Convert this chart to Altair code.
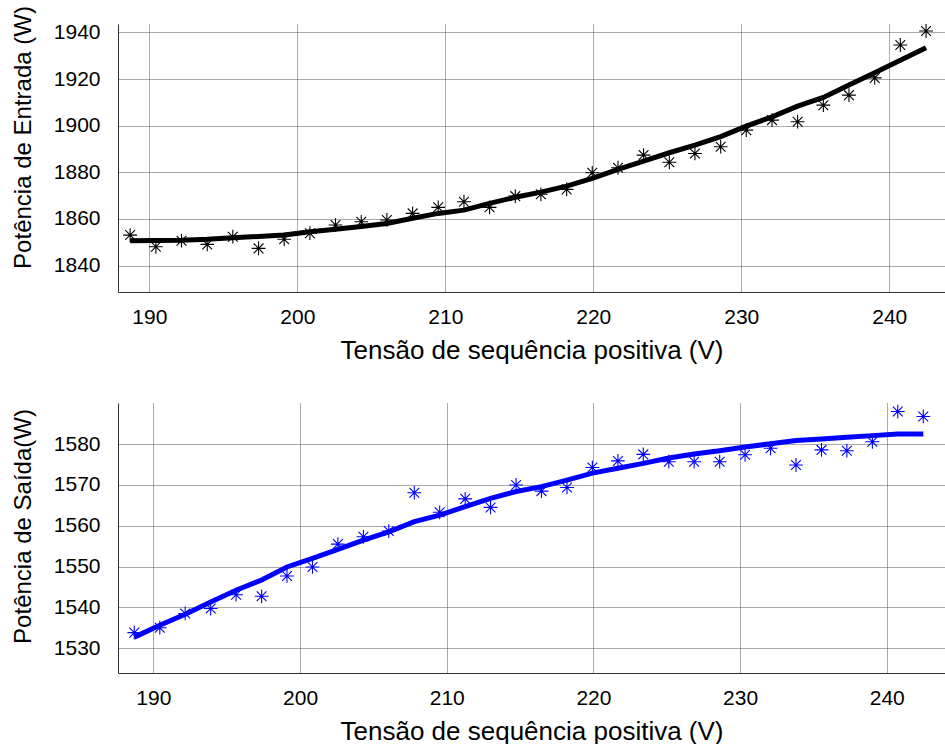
import altair as alt
import pandas as pd

# Positive-sequence voltage (V)
voltage = [188.70, 190.44, 192.17, 193.91, 195.64, 197.38, 199.11, 200.85,
           202.58, 204.32, 206.05, 207.79, 209.52, 211.26, 212.99, 214.73,
           216.46, 218.20, 219.93, 221.67, 223.40, 225.14, 226.87, 228.61,
           230.34, 232.08, 233.81, 235.55, 237.28, 239.02, 240.75, 242.49]

# Input power (W): measured points and fitted curve
p_in_meas = [1853.1, 1848.1, 1850.7, 1849.1, 1852.4, 1847.4, 1851.3, 1853.9,
             1857.4, 1858.8, 1859.6, 1862.4, 1865.0, 1867.4, 1865.0, 1869.8,
             1870.6, 1872.7, 1879.8, 1882.0, 1887.4, 1884.3, 1888.1, 1891.0,
             1898.1, 1902.4, 1901.7, 1908.8, 1913.1, 1920.5, 1934.6, 1940.6]
p_in_fit = [1850.7, 1850.8, 1850.9, 1851.3, 1852.0, 1852.5, 1853.1, 1854.5,
            1855.6, 1856.8, 1858.1, 1860.3, 1862.4, 1863.8, 1866.7, 1869.3,
            1871.5, 1874.1, 1877.4, 1881.3, 1884.8, 1888.4, 1891.7, 1895.3,
            1899.8, 1903.8, 1908.4, 1912.1, 1917.4, 1922.7, 1928.1, 1933.4]

# Output power (W): measured points and fitted curve
p_out_meas = [1533.8, 1535.0, 1538.5, 1539.7, 1543.1, 1542.7, 1547.7, 1549.9,
              1555.5, 1557.3, 1558.7, 1568.1, 1563.3, 1566.6, 1564.5, 1570.0,
              1568.5, 1569.4, 1574.3, 1575.9, 1577.5, 1575.7, 1575.7, 1575.7,
              1577.4, 1579.0, 1574.9, 1578.6, 1578.4, 1580.6, 1588.0, 1586.8]
p_out_fit = [1532.7, 1535.6, 1538.3, 1541.3, 1544.2, 1546.7, 1549.9, 1552.0,
             1554.2, 1556.5, 1558.5, 1561.0, 1562.6, 1564.7, 1566.7, 1568.4,
             1569.6, 1571.2, 1572.9, 1574.1, 1575.3, 1576.6, 1577.6, 1578.4,
             1579.3, 1580.1, 1580.9, 1581.3, 1581.7, 1582.1, 1582.5, 1582.5]

x_ticks = [190, 200, 210, 220, 230, 240]
top_y_ticks = [1840, 1860, 1880, 1900, 1920, 1940]
bot_y_ticks = [1530, 1540, 1550, 1560, 1570, 1580]

x_title = "Tensão de sequência positiva (V)"
top_y_title = "Potência de Entrada (W)"
bot_y_title = "Potência de Saída(W)"

ASTERISK = "M-1,0L1,0M0,-1L0,1M-0.71,-0.71L0.71,0.71M-0.71,0.71L0.71,-0.71"

df_top = pd.DataFrame({"v": voltage, "meas": p_in_meas, "fit": p_in_fit})
df_bot = pd.DataFrame({"v": voltage, "meas": p_out_meas, "fit": p_out_fit})


def panel(df, color, xdom, ydom, yticks, ytitle, title_y, h):
    x = alt.X("v:Q", scale=alt.Scale(domain=xdom, nice=False, zero=False),
              axis=alt.Axis(values=x_ticks, title=x_title, titleY=58, format="d",
                            titleBaseline="middle", titleFontSize=26))
    y_axis = alt.Axis(values=yticks, title=ytitle, titleX=-95, titleY=title_y, format="d",
                      titleBaseline="middle", titleAngle=270, titleFontSize=24)
    line = alt.Chart(df).mark_line(color=color, strokeWidth=5, clip=True).encode(
        x=x,
        y=alt.Y("fit:Q", scale=alt.Scale(domain=ydom, nice=False, zero=False), axis=y_axis),
    )
    pts = alt.Chart(df).mark_point(shape=ASTERISK, filled=False, color=color,
                                   strokeWidth=1.1, size=190, opacity=1, clip=True).encode(
        x=alt.X("v:Q"),
        y=alt.Y("meas:Q"),
    )
    return alt.layer(line, pts).properties(width=827, height=h)


top = panel(df_top, "#000000", [187.88, 243.77], [1828.7, 1943.6],
            top_y_ticks, top_y_title, 113, 268)
bot = panel(df_bot, "#0000ff", [187.59, 243.97], [1523.9, 1590.1],
            bot_y_ticks, bot_y_title, 123, 270)

chart = alt.vconcat(top, bot, spacing=111, bounds="flush").properties(
    autosize=alt.AutoSizeParams(type="none"),
    padding={"left": 118, "top": 24, "right": 0, "bottom": 720},
    background="white",
).configure_view(stroke=None).configure_axis(
    labelFont="Liberation Sans",
    titleFont="Liberation Sans",
    labelFontSize=21,
    titleFontWeight="normal",
    labelColor="#000000",
    titleColor="#000000",
    grid=True,
    gridColor="#555555",
    gridDash=[1, 1],
    gridWidth=1,
    gridOpacity=1,
    domainColor="#333333",
    domainWidth=1,
    ticks=False,
    tickSize=0,
).configure_axisX(
    labelPadding=14,
    labelBaseline="top",
).configure_axisY(
    labelPadding=18,
)

chart.save("out.html", embed_options={"renderer": "svg", "actions": False})
